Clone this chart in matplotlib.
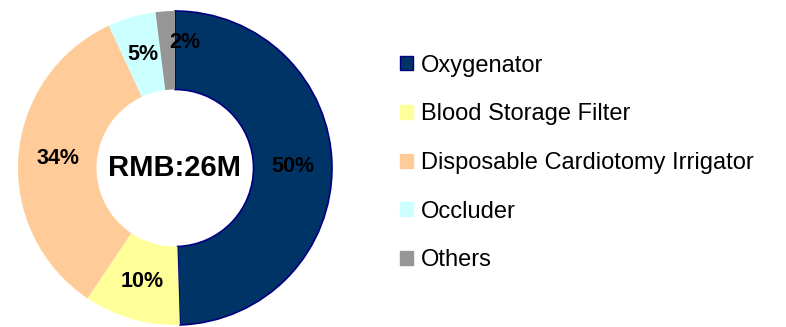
import matplotlib
matplotlib.use("Agg")
import matplotlib.pyplot as plt
from matplotlib.patches import Patch

plt.rcParams['font.family'] = ['Liberation Sans', 'DejaVu Sans']

# market share by product line
categories = ["Oxygenator", "Blood Storage Filter", "Disposable Cardiotomy Irrigator",
              "Occluder", "Others"]
shares = [50, 10, 34, 5, 2]
colors = ["#003366", "#FFFF99", "#FFCC99", "#CCFFFF", "#969696"]
total_label = "RMB:26M"

W, H = 786, 327
fig = plt.figure(figsize=(W / 100, H / 100), dpi=100)

# donut axes: centre (175, 168) px, radius 157 px
cx, cy, r = 175, 168, 157
ax = fig.add_axes([(cx - r) / W, (H - cy - r) / H, 2 * r / W, 2 * r / H])

wedges, texts, autotexts = ax.pie(
    shares,
    colors=colors,
    startangle=90,
    counterclock=False,
    autopct=lambda p: f"{p * sum(shares) / 100:.0f}%",
    pctdistance=0.75,
    wedgeprops=dict(width=0.5, linewidth=0),
    textprops=dict(fontsize=15.5, fontweight='bold', color='black'),
)
wedges[0].set_edgecolor("#000080")
wedges[0].set_linewidth(1.2)

# small slice label sits a bit outward and to the right
x, y = autotexts[-1].get_position()
autotexts[-1].set_position((x + 0.11, y + 0.05))

ax.text(0, 0, total_label, ha='center', va='center', fontsize=21, fontweight='bold')
ax.set_xlim(-1, 1)
ax.set_ylim(-1, 1)
ax.set_aspect('equal')
ax.axis('off')

handles = [Patch(facecolor=c, edgecolor=("#000080" if i == 0 else c), linewidth=1)
           for i, c in enumerate(colors)]
fig.legend(handles, categories, loc='center left',
           bbox_to_anchor=(400 / W, 1 - 163 / H),
           frameon=False, fontsize=17,
           handlelength=0.55, handleheight=0.55, handletextpad=0.35,
           labelspacing=1.13, borderpad=0, borderaxespad=0)

fig.savefig("out.png", dpi=100, facecolor='white')
